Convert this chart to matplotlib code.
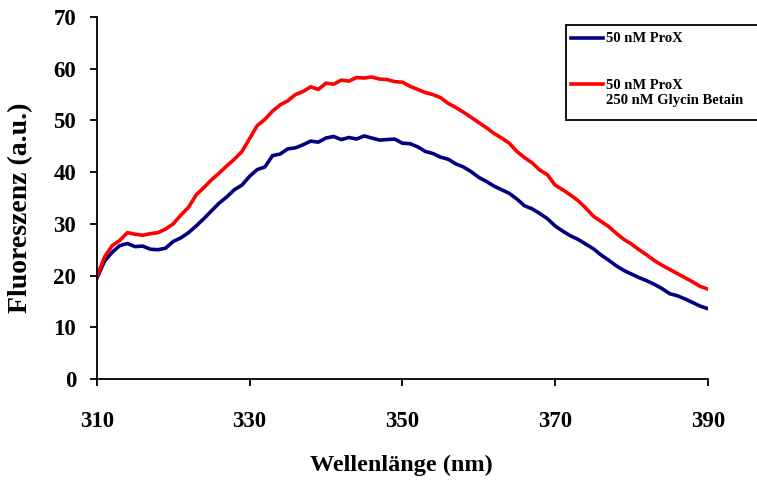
import matplotlib
matplotlib.use("Agg")
import matplotlib.pyplot as plt
from matplotlib.lines import Line2D
from matplotlib.patches import Rectangle

# Wellenlänge (nm), 1 nm Schritte
wavelength = list(range(310, 391))

prox = [19.5, 22.8, 24.5, 25.8, 26.2, 25.6, 25.7, 25.1, 25.0, 25.3,
        26.6, 27.3, 28.3, 29.6, 31.0, 32.5, 34.0, 35.2, 36.6, 37.5,
        39.2, 40.5, 41.0, 43.2, 43.5, 44.5, 44.7, 45.3, 46.0, 45.8,
        46.6, 46.9, 46.3, 46.7, 46.4, 47.0, 46.6, 46.2, 46.3, 46.4,
        45.6, 45.5, 44.9, 44.0, 43.6, 42.9, 42.5, 41.6, 41.0, 40.1,
        39.0, 38.2, 37.3, 36.6, 35.9, 34.8, 33.5, 32.9, 32.0, 31.0,
        29.6, 28.6, 27.7, 27.0, 26.1, 25.2, 24.0, 23.0, 21.9, 21.0,
        20.3, 19.6, 19.0, 18.3, 17.5, 16.5, 16.1, 15.5, 14.8, 14.1,
        13.6]

prox_betain = [19.8, 23.6, 25.8, 26.8, 28.3, 28.0, 27.8, 28.1, 28.3, 29.0,
               30.0, 31.7, 33.2, 35.6, 37.0, 38.5, 39.8, 41.2, 42.5, 44.0,
               46.5, 49.0, 50.2, 51.8, 53.0, 53.8, 55.0, 55.6, 56.5, 56.0,
               57.2, 57.0, 57.8, 57.6, 58.3, 58.2, 58.4, 58.0, 57.9, 57.5,
               57.4, 56.6, 56.0, 55.4, 55.0, 54.4, 53.3, 52.5, 51.6, 50.6,
               49.6, 48.6, 47.5, 46.6, 45.6, 44.0, 42.8, 41.8, 40.4, 39.5,
               37.5, 36.6, 35.6, 34.5, 33.1, 31.5, 30.5, 29.5, 28.2, 27.0,
               26.1, 25.0, 24.0, 22.9, 22.0, 21.2, 20.4, 19.6, 18.8, 17.9,
               17.4]

xticks = [310, 330, 350, 370, 390]
yticks = [0, 10, 20, 30, 40, 50, 60, 70]
label_prox = "50 nM ProX"
label_betain = ["50 nM ProX", "250 nM Glycin Betain"]

plt.rcParams['font.family'] = ['Liberation Serif', 'DejaVu Serif']
plt.rcParams['font.weight'] = 'bold'

fig = plt.figure(figsize=(7.57, 4.8), dpi=100)
ax = fig.add_axes([0.128, 0.2104, 0.807, 0.7542])

ax.plot(wavelength, prox, color='#000080', lw=2.6)
ax.plot(wavelength, prox_betain, color='#ff0000', lw=2.6)

ax.set_xlim(310, 390)
ax.set_ylim(0, 70)
ax.set_xticks(xticks)
ax.set_yticks(yticks)
ax.spines['top'].set_visible(False)
ax.spines['right'].set_visible(False)
ax.spines['left'].set_linewidth(1.3)
ax.spines['bottom'].set_linewidth(1.3)
ax.tick_params(axis='both', direction='out', length=5, width=1.3, labelsize=16.5)
ax.tick_params(axis='x', pad=18)
ax.tick_params(axis='y', pad=10)
for lbl in ax.get_xticklabels() + ax.get_yticklabels():
    lbl.set_fontweight('bold')

ax.set_xlabel("Wellenlänge (nm)", fontsize=17.5, fontweight='bold')
ax.set_ylabel("Fluoreszenz (a.u.)", fontsize=20, fontweight='bold')
ax.xaxis.set_label_coords(0.498, -0.21)
ax.yaxis.set_label_coords(-0.105, 0.472)

# Legende (rechts abgeschnitten wie im Original)
fig.add_artist(Rectangle((0.7477, 0.75), 0.4, 0.198, transform=fig.transFigure,
                         facecolor='white', edgecolor='black', lw=1.3))
fig.add_artist(Line2D([0.7543, 0.7966], [0.9208, 0.9208], transform=fig.transFigure,
                      color='#000080', lw=2.6))
fig.add_artist(Line2D([0.7543, 0.7966], [0.825, 0.825], transform=fig.transFigure,
                      color='#ff0000', lw=2.6))
fig.text(0.8005, 0.9208, label_prox, fontsize=10.5, fontweight='bold', va='center')
fig.text(0.8005, 0.8229, label_betain[0], fontsize=10.5, fontweight='bold', va='center')
fig.text(0.8005, 0.7896, label_betain[1], fontsize=10.5, fontweight='bold', va='center')

fig.savefig("out.png", dpi=100)
